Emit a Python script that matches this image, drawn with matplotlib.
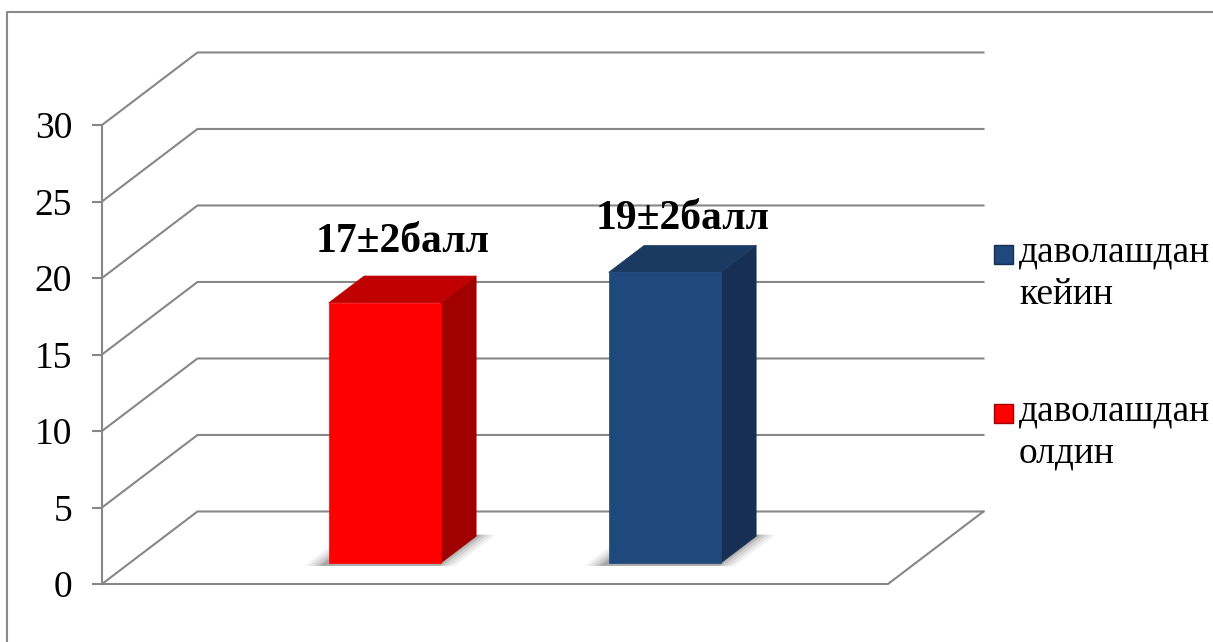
import matplotlib
matplotlib.use("Agg")
import matplotlib.pyplot as plt
from matplotlib.patches import Polygon, Rectangle
from matplotlib.lines import Line2D

# data
categories = ["даволашдан олдин", "даволашдан кейин"]
values = [17, 19]
bar_labels = ["17±2балл", "19±2балл"]
legend_labels = ["даволашдан\nкейин", "даволашдан\nолдин"]
y_ticks = [0, 5, 10, 15, 20, 25, 30]

front_colors = ["#ff0000", "#1f487c"]
side_colors = ["#a00000", "#172f52"]
top_colors = ["#c00000", "#1b3a62"]

W, H = 1213, 642
GRID = "#878787"
FONT = "Liberation Serif"

# oblique projection of the box: depth vector in data units
XLO, XHI = -0.911, 1.896
DX, DY = 0.341, 4.74
BAR_W = 0.40
F0, F1 = 0.29, 0.66
label_offsets = [44, 38]


def proj(x, y, f):
    return (x + f * DX, y + f * DY)


fig = plt.figure(figsize=(W / 100, H / 100), dpi=100)
ax = fig.add_axes([102 / W, (H - 584) / H, 786 / W, 459 / H])
ax.set_xlim(XLO, XHI)
ax.set_ylim(0, 30)
for s in ["top", "right", "bottom"]:
    ax.spines[s].set_visible(False)
ax.spines["left"].set_color(GRID)
ax.spines["left"].set_linewidth(1.5)
ax.set_xticks([])
ax.set_yticks(y_ticks)
ax.tick_params(axis="y", direction="out", length=7.5, width=1.5, color=GRID,
               pad=14, labelsize=27)
for t in ax.get_yticklabels():
    t.set_fontfamily(FONT)

# walls and floor
for v in y_ticks:
    x0, y0 = proj(XLO, v, 0)
    x1, y1 = proj(XLO, v, 1)
    x2, y2 = proj(XHI, v, 1)
    ax.plot([x0, x1, x2], [y0, y1, y2], color=GRID, lw=1.5, clip_on=False, zorder=1)
fx = [XLO, XHI, proj(XHI, 0, 1)[0]]
fy = [0, 0, proj(XHI, 0, 1)[1]]
ax.plot(fx, fy, color=GRID, lw=1.5, clip_on=False, zorder=1)

# bars
for i, v in enumerate(values):
    xa, xb = i - BAR_W / 2, i + BAR_W / 2
    # soft shadow on the floor, layered from wide/faint to tight/dark
    for g, a in [(0.065, 0.06), (0.05, 0.08), (0.035, 0.10), (0.02, 0.14), (0.008, 0.18)]:
        shadow = [proj(xa - g - 0.01, 0, F0 - 0.04), proj(xb + g, 0, F0 - 0.04),
                  proj(xb + g, 0, F1 + 0.02), proj(xa - g - 0.01, 0, F1 + 0.02)]
        ax.add_patch(Polygon(shadow, closed=True, facecolor="#404040", edgecolor="none",
                             alpha=a, clip_on=False, zorder=2))
    front = [proj(xa, 0, F0), proj(xb, 0, F0), proj(xb, v, F0), proj(xa, v, F0)]
    side = [proj(xb, 0, F0), proj(xb, 0, F1), proj(xb, v, F1), proj(xb, v, F0)]
    top = [proj(xa, v, F0), proj(xb, v, F0), proj(xb, v, F1), proj(xa, v, F1)]
    for pts, c in [(side, side_colors[i]), (top, top_colors[i]), (front, front_colors[i])]:
        ax.add_patch(Polygon(pts, closed=True, facecolor=c, edgecolor=c, lw=0.5,
                             clip_on=False, zorder=3, joinstyle="round"))
    cx, cy = proj(i + DX * (F1 - F0) / 2, v, F0)
    ax.annotate(bar_labels[i], xy=(cx, cy), xytext=(0, label_offsets[i]),
                textcoords="offset points", ha="center", va="center", fontsize=30,
                fontweight="bold", fontfamily=FONT, zorder=5)

# legend
leg_y = [254, 413]
leg_c = [front_colors[1], front_colors[0]]
leg_e = [side_colors[1], side_colors[0]]
for lab, y, c, e in zip(legend_labels, leg_y, leg_c, leg_e):
    fig.add_artist(Rectangle((994 / W, (H - y - 10) / H), 19 / W, 19 / H, transform=fig.transFigure,
                             facecolor=c, edgecolor=e, lw=1))
    fig.text(1019 / W, (H - y + 19) / H, lab, fontsize=27, fontfamily=FONT,
             ha="left", va="top", linespacing=1.3)

# outer frame
fig.add_artist(Line2D([7 / W, 7 / W, 1.0], [0.0, (H - 12) / H, (H - 12) / H],
                      transform=fig.transFigure, color="#8a8a8a", lw=1.5))

fig.savefig("out.png", dpi=100)
